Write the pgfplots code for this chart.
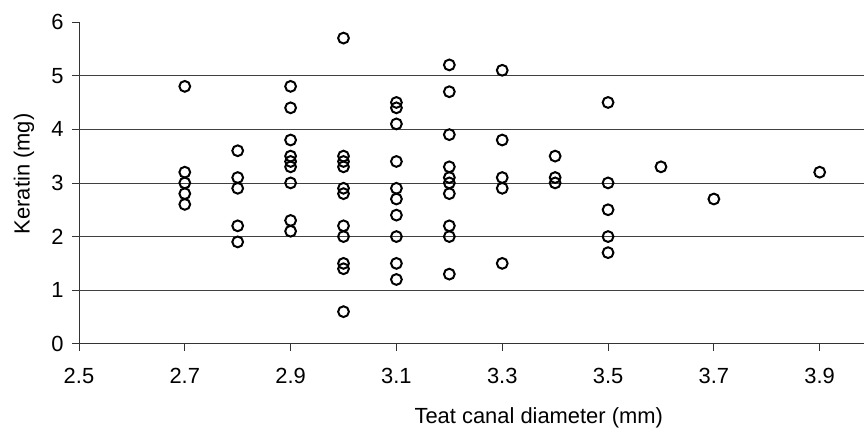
\documentclass[border=0pt]{standalone}
\usepackage{fontspec}
\setmainfont{Liberation Sans}
\usepackage{pgfplots}
\pgfplotsset{compat=1.18}

\begin{document}
\begin{tikzpicture}
\begin{axis}[
    scale only axis,
    width=785bp, height=322bp,
    xmin=2.5, xmax=3.983,
    ymin=0, ymax=6,
    axis x line*=bottom, axis y line*=left,
    axis line style={black!80, line width=0.8pt, -},
    xtick={2.5,2.7,2.9,3.1,3.3,3.5,3.7,3.9},
    ytick={0,1,2,3,4,5,6},
    extra y ticks={1,2,3,4,5},
    extra y tick style={grid=major, major tick length=0pt, yticklabels={}},
    grid style={black!75, line width=0.8pt},
    tick align=outside,
    major tick length=7bp,
    tick style={black!80, line width=0.8pt},
    /pgf/number format/assume math mode=true,
    tick label style={font=\fontsize{22}{24}\selectfont},
    xticklabel style={yshift=-14bp, /pgf/number format/fixed,
        /pgf/number format/fixed zerofill, /pgf/number format/precision=1},
    yticklabel style={xshift=-5bp},
    label style={font=\fontsize{22}{24}\selectfont},
    xlabel={Teat canal diameter (mm)},
    ylabel={Keratin (mg)},
    xlabel style={at={(axis description cs:0.586,0)}, anchor=base, yshift=-80bp},
    ylabel style={at={(axis description cs:0,0.528)}, anchor=center, yshift=55bp},
    clip=false,
]
\addplot[only marks, mark=o, mark size=5.4bp,
         mark options={line width=2pt, fill=white, draw=black}]
coordinates {
  (2.7,4.8) (2.7,3.2) (2.7,3.0) (2.7,2.8) (2.7,2.6)
  (2.8,3.6) (2.8,3.1) (2.8,2.9) (2.8,2.2) (2.8,1.9)
  (2.9,4.8) (2.9,4.4) (2.9,3.8) (2.9,3.5) (2.9,3.4) (2.9,3.3) (2.9,3.0) (2.9,2.3) (2.9,2.1)
  (3.0,5.7) (3.0,3.5) (3.0,3.4) (3.0,3.3) (3.0,2.9) (3.0,2.8) (3.0,2.2) (3.0,2.0) (3.0,1.5) (3.0,1.4) (3.0,0.6)
  (3.1,4.5) (3.1,4.4) (3.1,4.1) (3.1,3.4) (3.1,2.9) (3.1,2.7) (3.1,2.4) (3.1,2.0) (3.1,1.5) (3.1,1.2)
  (3.2,5.2) (3.2,4.7) (3.2,3.9) (3.2,3.3) (3.2,3.1) (3.2,3.0) (3.2,2.8) (3.2,2.2) (3.2,2.0) (3.2,1.3)
  (3.3,5.1) (3.3,3.8) (3.3,3.1) (3.3,2.9) (3.3,1.5)
  (3.4,3.5) (3.4,3.1) (3.4,3.0)
  (3.5,4.5) (3.5,3.0) (3.5,2.5) (3.5,2.0) (3.5,1.7)
  (3.6,3.3)
  (3.7,2.7)
  (3.9,3.2)
};
\end{axis}
\useasboundingbox (-79bp,-85bp) rectangle (785bp,344bp);
\end{tikzpicture}
\end{document}
